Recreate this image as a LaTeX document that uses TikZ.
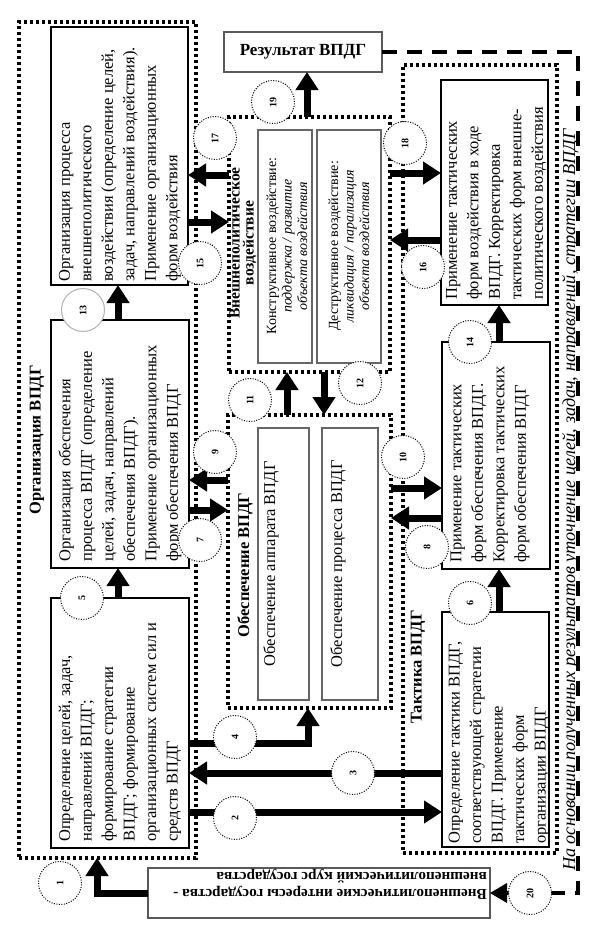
\documentclass[tikz,border=0pt]{standalone}
\usepackage{fontspec}
\usepackage{graphicx}
\setmainfont{Liberation Serif}
\usetikzlibrary{arrows.meta}
\begin{document}
\begin{tikzpicture}[x=1pt,y=-1pt,
 frame/.style={draw, line width=3.2pt, dash pattern=on 3.2pt off 2.8pt, inner sep=0, outer sep=0},
 mainbox/.style={draw, line width=2.2pt, inner sep=0, outer sep=0, fill=white},
 innerbox/.style={draw=black!60, line width=1.1pt, inner sep=0, outer sep=0, fill=white},
 thinbox/.style={draw=black!65, line width=1.2pt, inner sep=0, outer sep=0, fill=white},
 txt/.style={rotate=90, align=left, inner sep=0, anchor=west, font=\fontsize{16.5}{21.5}\selectfont},
 itxt/.style={rotate=90, align=center, inner sep=0, font=\fontsize{14}{15.5}\selectfont},
 ttl/.style={rotate=90, inner sep=0, align=center, font=\bfseries\fontsize{16.5}{14}\selectfont},
 num/.style={circle, draw, line width=1pt, dash pattern=on 1pt off 1.5pt, fill=white, minimum size=43pt, inner sep=0, font=\bfseries\fontsize{10}{10}\selectfont},
 arr/.style={line width=7pt, -{Triangle[width=22pt,length=18pt]}},
 dsh/.style={line width=4.5pt, dash pattern=on 15pt off 10pt},
 shaft/.style={line width=4.5pt}
]
\fill[white] (0,0) rectangle (594,934);
\useasboundingbox (0,0) rectangle (594,934);

% helper coordinates
\foreach \v in {173,175,222,240,480,488,510,518,743,773,812}{\coordinate (y\v) at (0,\v);}
\foreach \v in {97,118,287,307,308,324,499,578}{\coordinate (x\v) at (\v,0);}
\coordinate (c20) at (530,893);

% frames
\node[frame, minimum width=177pt, minimum height=836pt] (org) at (107.5,440) {};
\node[frame, minimum width=161pt, minimum height=255pt] (vv) at (309.5,244.5) {};
\node[frame, minimum width=163pt, minimum height=293pt] (obe) at (309.5,561.5) {};
\node[frame, minimum width=154pt, minimum height=788pt] (tak) at (480,459) {};

% boxes
\node[mainbox, minimum width=137pt, minimum height=258pt] (A) at (119.5,156) {};
\node[mainbox, minimum width=138pt, minimum height=248pt] (B) at (120,444) {};
\node[mainbox, minimum width=138pt, minimum height=250pt] (C) at (120,723) {};
\node[mainbox, minimum width=107pt, minimum height=225pt] (E) at (494.5,192.5) {};
\node[mainbox, minimum width=108pt, minimum height=227pt] (F) at (496,455.5) {};
\node[mainbox, minimum width=107pt, minimum height=235pt] (D) at (495.5,729.5) {};
\node[thinbox, minimum width=158pt, minimum height=40pt, font=\bfseries\fontsize{17}{20}\selectfont] (res) at (303,52) {Результат ВПДГ};
\node[thinbox, minimum width=342pt, minimum height=50pt] (bot) at (319,893) {};
\node[innerbox, minimum width=54pt, minimum height=233pt] (kon) at (285,246.5) {};
\node[innerbox, minimum width=64pt, minimum height=233pt] (des) at (349,246.5) {};
\node[innerbox, minimum width=51pt, minimum height=272pt] (app) at (283.5,564) {};
\node[innerbox, minimum width=56pt, minimum height=272pt] (pro) at (350,564) {};

% texts
\node[txt] (tA) at (120,282) {Организация процесса\\внешнеполитического\\воздействия (определение целей,\\задач, направлений воздействия).\\Применение организационных\\форм воздействия};
\node[txt] (tB) at (120,562) {Организация обеспечения\\процесса ВПДГ (определение\\целей, задач, направлений\\обеспечения ВПДГ).\\Применение организационных\\форм обеспечения ВПДГ};
\node[txt] (tC) at (120,842) {Определение целей, задач,\\направлений ВПДГ;\\формирование стратегии\\ВПДГ; формирование\\организационных систем сил и\\средств ВПДГ};
\node[txt] (tE) at (496,300) {Применение тактических\\форм воздействия в ходе\\ВПДГ. Корректировка\\тактических форм внешне-\\политического воздействия};
\node[txt] (tF) at (490,563) {Применение тактических\\форм обеспечения ВПДГ.\\Корректировка тактических\\форм обеспечения ВПДГ};
\node[txt] (tD) at (499,844) {Определение тактики ВПДГ,\\соответствующей стратегии\\ВПДГ. Применение\\тактических форм\\организации ВПДГ};
\node[itxt] (tK) at (287,246) {Конструктивное воздействие:\\\textit{поддержка / развитие}\\\textit{объекта воздействия}};
\node[itxt] (tDs) at (349,246) {Деструктивное воздействие:\\\textit{ликвидация / парализация}\\\textit{объекта воздействия}};
\node[rotate=90, inner sep=0, font=\fontsize{16.5}{20}\selectfont] (tApp) at (271,564) {Обеспечение аппарата ВПДГ};
\node[rotate=90, inner sep=0, font=\fontsize{16.5}{20}\selectfont] (tPro) at (338,564) {Обеспечение процесса ВПДГ};
\node[rotate=180, anchor=west, align=left, inner sep=0, font=\bfseries\fontsize{15.2}{17}\selectfont] (tBot) at (487,884) {Внешнеполитические интересы государства -\\внешнеполитический курс государства};

% titles
\node[ttl] (tOrg) at (37,440) {Организация ВПДГ};
\node[ttl, font=\bfseries\fontsize{15.5}{14}\selectfont] (tVV) at (243,243) {Внешнеполитическое\\воздействие};
\node[ttl] (tObe) at (245,565) {Обеспечение ВПДГ};
\node[ttl] (tTak) at (418,667) {Тактика ВПДГ};
\node[rotate=90, anchor=base, inner sep=0, font=\itshape\fontsize{18.2}{17}\selectfont] (tNote) at (575,500) {На основании полученных результатов уточнение целей, задач, направлений, стратегии ВПДГ};

% arrows
\draw[arr] (vv.west |- y175) -- (A.east |- y175);
\draw[arr] (A.east |- y222) -- (vv.west |- y222);
\draw[arr] (obe.west |- y480) -- (B.east |- y480);
\draw[arr] (B.east |- y510) -- (obe.west |- y510);
\draw[arr] (vv.east |- y173) -- (E.west |- y173);
\draw[arr] (E.west |- y240) -- (vv.east |- y240);
\draw[arr] (obe.east |- y488) -- (F.west |- y488);
\draw[arr] (F.west |- y518) -- (obe.east |- y518);
\draw[arr] (obe.north -| x287) -- (vv.south -| x287);
\draw[arr] (vv.south -| x324) -- (obe.north -| x324);
\draw[arr] (vv.north -| x307) -- (res.south -| x307);
\draw[arr] (B.north -| x118) -- (A.south -| x118);
\draw[arr] (C.north -| x118) -- (B.south -| x118);
\draw[arr] (F.north -| x499) -- (E.south -| x499);
\draw[arr] (D.north -| x499) -- (F.south -| x499);
\draw[arr] (C.east |- y812) -- (D.west |- y812);
\draw[arr] (D.west |- y773) -- (C.east |- y773);
\draw[arr] (C.east |- y743) -| (obe.south -| x308);
\draw[arr] (bot.west) -| (org.south -| x97);

% feedback loop
\draw[dsh] (res.east) -| (x578 |- c20) -- (c20);
\draw[shaft] (c20) -- ([xshift=14pt]bot.east);
\fill (bot.east) -- ([xshift=17pt,yshift=10pt]bot.east) -- ([xshift=17pt,yshift=-10pt]bot.east) -- cycle;

% circles
\node[num] (n1) at (60,883) {\rotatebox{90}{1}};
\node[num] (n2) at (235,818) {\rotatebox{90}{2}};
\node[num] (n3) at (353,773) {\rotatebox{90}{3}};
\node[num] (n4) at (235,737) {\rotatebox{90}{4}};
\node[num] (n5) at (82,598) {\rotatebox{90}{5}};
\node[num] (n6) at (470,603) {\rotatebox{90}{6}};
\node[num] (n7) at (200,540) {\rotatebox{90}{7}};
\node[num] (n8) at (427,547) {\rotatebox{90}{8}};
\node[num] (n9) at (215,452) {\rotatebox{90}{9}};
\node[num] (n10) at (403,457) {\rotatebox{90}{10}};
\node[num] (n11) at (250,400) {\rotatebox{90}{11}};
\node[num] (n12) at (360,383) {\rotatebox{90}{12}};
\node[num, draw=black!30, solid] (n13) at (83,310) {\rotatebox{90}{13}};
\node[num] (n14) at (470,342) {\rotatebox{90}{14}};
\node[num] (n15) at (200,263) {\rotatebox{90}{15}};
\node[num] (n16) at (423,267) {\rotatebox{90}{16}};
\node[num] (n17) at (215,138) {\rotatebox{90}{17}};
\node[num] (n18) at (405,143) {\rotatebox{90}{18}};
\node[num] (n19) at (273,102) {\rotatebox{90}{19}};
\node[num] (n20) at (c20) {\rotatebox{90}{20}};
\end{tikzpicture}
\end{document}
